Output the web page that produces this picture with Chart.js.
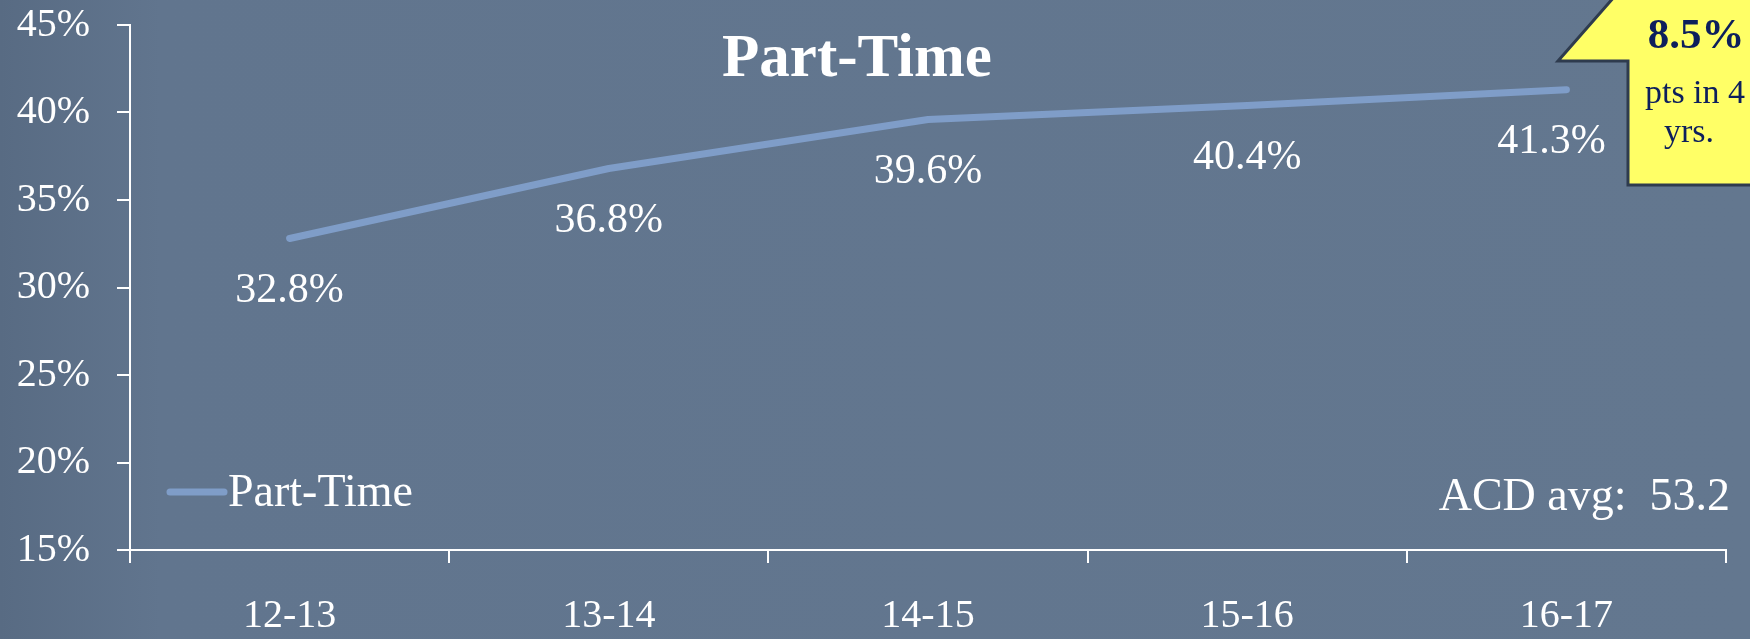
<!DOCTYPE html>
<html>
<head>
<meta charset="utf-8">
<script src="https://cdn.jsdelivr.net/npm/chart.js@4.4.1/dist/chart.umd.min.js"></script>
<style>
  html, body { margin: 0; padding: 0; width: 1750px; height: 639px; overflow: hidden;
    background: linear-gradient(90deg, #586b83 0px, #61758e 160px, #63778f 100%); }
  #wrap { position: relative; width: 1750px; height: 639px; }
</style>
</head>
<body>
<div id="wrap"><canvas id="c"></canvas></div>
<script>
// ---- data ----
const categories = ['12-13', '13-14', '14-15', '15-16', '16-17'];
const partTime = [32.8, 36.8, 39.6, 40.4, 41.3];
const seriesName = 'Part-Time';
const chartTitle = 'Part-Time';
const yMin = 15, yMax = 45, yStep = 5;
const noteText = 'ACD avg:  53.2';
const calloutLines = ['8.5%', 'pts in 4', 'yrs.'];

const SERIF = '"Liberation Serif", "DejaVu Serif", serif';
const LINE_COLOR = '#7f9dc8';

const overlay = {
  id: 'overlay',
  afterDatasetsDraw(chart) {
    const ctx = chart.ctx;
    const xs = chart.scales.x, ys = chart.scales.y;
    ctx.save();
    // data labels
    ctx.fillStyle = '#ffffff';
    ctx.font = '42px ' + SERIF;
    ctx.textAlign = 'center';
    ctx.textBaseline = 'middle';
    partTime.forEach((v, i) => {
      let x = xs.getPixelForValue(i);
      if (i === partTime.length - 1) x -= 15;
      const y = ys.getPixelForValue(v) + 52;
      ctx.fillText(v.toFixed(1) + '%', x, y);
    });
    // title
    ctx.font = 'bold 61px ' + SERIF;
    ctx.textBaseline = 'alphabetic';
    ctx.fillText(chartTitle, 857, 76);
    // legend
    ctx.strokeStyle = LINE_COLOR;
    ctx.lineWidth = 7;
    ctx.lineCap = 'round';
    ctx.beginPath(); ctx.moveTo(170, 492); ctx.lineTo(224, 492); ctx.stroke();
    ctx.font = '46px ' + SERIF;
    ctx.textAlign = 'left';
    ctx.fillText(seriesName, 228, 506);
    // note
    ctx.font = '46px ' + SERIF;
    ctx.textAlign = 'right';
    ctx.fillText(noteText, 1730, 510);
    // callout arrow
    ctx.beginPath();
    ctx.moveTo(1628, 185);
    ctx.lineTo(1628, 61);
    ctx.lineTo(1558, 61);
    ctx.lineTo(1643, -36);
    ctx.lineTo(1770, -36);
    ctx.lineTo(1770, 185);
    ctx.closePath();
    ctx.fillStyle = '#ffff66';
    ctx.fill();
    ctx.lineWidth = 3;
    ctx.lineJoin = 'miter';
    ctx.strokeStyle = '#2e3b4e';
    ctx.stroke();
    ctx.fillStyle = '#0d1f5c';
    ctx.textAlign = 'center';
    ctx.font = 'bold 43px ' + SERIF;
    ctx.fillText(calloutLines[0], 1696, 48);
    ctx.font = '34px ' + SERIF;
    ctx.fillText(calloutLines[1], 1695, 103);
    ctx.fillText(calloutLines[2], 1689, 142);
    ctx.restore();
  }
};

new Chart(document.getElementById('c'), {
  type: 'line',
  data: {
    labels: categories,
    datasets: [{
      label: seriesName,
      data: partTime,
      borderColor: LINE_COLOR,
      borderWidth: 7,
      borderCapStyle: 'round',
      borderJoinStyle: 'round',
      pointRadius: 0,
      tension: 0,
      fill: false
    }]
  },
  options: {
    responsive: true,
    maintainAspectRatio: false,
    animation: false,
    layout: { padding: { top: 25, right: 24, left: 0, bottom: 0 } },
    plugins: { legend: { display: false }, title: { display: false }, tooltip: { enabled: false } },
    scales: {
      x: {
        offset: true,
        grid: { offset: true, drawOnChartArea: false, drawTicks: true, tickLength: 13, color: '#ffffff', lineWidth: 2 },
        border: { display: true, color: '#ffffff', width: 2 },
        ticks: { color: '#ffffff', font: { family: SERIF, size: 40 }, padding: 29, maxRotation: 0 },
        afterFit(s) { s.height = 89; s.paddingLeft = 0; s.paddingRight = 0; }
      },
      y: {
        min: yMin, max: yMax,
        grid: { drawOnChartArea: false, drawTicks: true, tickLength: 13, color: '#ffffff', lineWidth: 2 },
        border: { display: true, color: '#ffffff', width: 2 },
        ticks: { stepSize: yStep, color: '#ffffff', font: { family: SERIF, size: 40 }, padding: 27,
                 callback: v => v + '%' },
        afterFit(s) { s.width = 130; s.paddingTop = 0; s.paddingBottom = 0; }
      }
    }
  },
  plugins: [overlay]
});
</script>
</body>
</html>
